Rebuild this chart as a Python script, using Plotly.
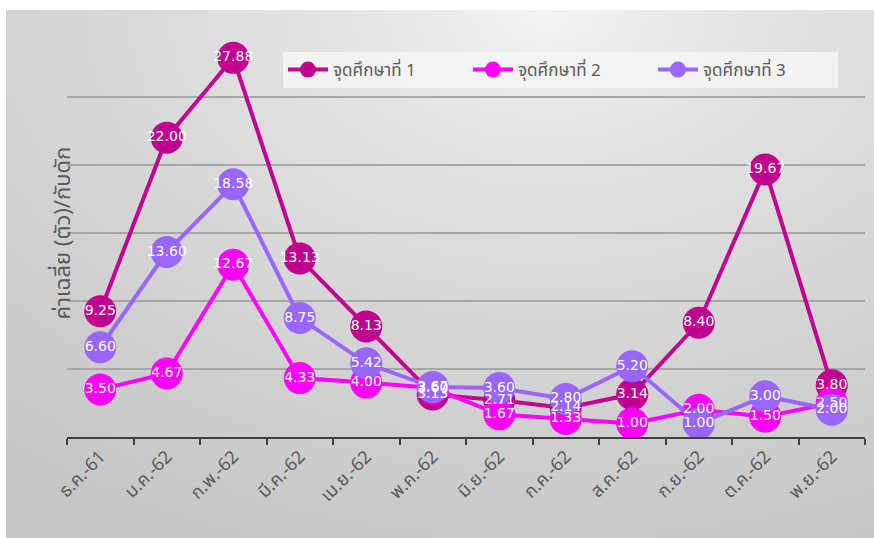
import base64
import struct
import zlib

import numpy as np
import plotly.graph_objects as go

# Monthly survey periods
months = ["ธ.ค.-61", "ม.ค.-62", "ก.พ.-62", "มี.ค.-62", "เม.ย.-62", "พ.ค.-62",
          "มิ.ย.-62", "ก.ค.-62", "ส.ค.-62", "ก.ย.-62", "ต.ค.-62", "พ.ย.-62"]

# Average catch per trap at each study site
site1 = [9.25, 22.00, 27.88, 13.13, 8.13, 3.13, 2.71, 2.14, 3.14, 8.40, 19.67, 3.80]
site2 = [3.50, 4.67, 12.67, 4.33, 4.00, 3.60, 1.67, 1.33, 1.00, 2.00, 1.50, 2.50]
site3 = [6.60, 13.60, 18.58, 8.75, 5.42, 3.67, 3.60, 2.80, 5.20, 1.00, 3.00, 2.00]

series_names = ["จุดศึกษาที่ 1", "จุดศึกษาที่ 2", "จุดศึกษาที่ 3"]
series_colors = ["#C0008E", "#FF00FF", "#9966FF"]

W, H = 874, 538
M_L, M_R, M_T, M_B = 67, 9, 29, 101
PW, PH = W - M_L - M_R, H - M_T - M_B

THAI_FONT = "Noto Sans Thai, Tahoma, DejaVu Sans, sans-serif"


def gradient_png(w, h):
    """Soft radial grey fill used as the chart panel background."""
    ys, xs = np.mgrid[0:h, 0:w].astype(float)
    cx, cy = 0.62 * w, 0.0
    d = np.sqrt(((xs - cx) / (1.0 * w)) ** 2 + ((ys - cy) / (1.1 * h)) ** 2)
    d = np.clip(d, 0, 1) ** 0.7
    v = (246 - (246 - 198) * d).astype(np.uint8)
    img = np.stack([v, v, v], axis=-1)
    raw = b"".join(b"\x00" + img[r].tobytes() for r in range(h))

    def chunk(tag, data):
        c = struct.pack(">I", len(data)) + tag + data
        return c + struct.pack(">I", zlib.crc32(tag + data) & 0xFFFFFFFF)

    png = b"\x89PNG\r\n\x1a\n"
    png += chunk(b"IHDR", struct.pack(">IIBBBBB", w, h, 8, 2, 0, 0, 0))
    png += chunk(b"IDAT", zlib.compress(raw, 9))
    png += chunk(b"IEND", b"")
    return "data:image/png;base64," + base64.b64encode(png).decode()


fig = go.Figure()

all_series = [site1, site2, site3]

# Lines and markers
for name, vals, col in zip(series_names, all_series, series_colors):
    fig.add_trace(go.Scatter(
        x=months, y=vals, name=name, mode="lines+markers",
        line=dict(color=col, width=4),
        marker=dict(color=col, size=32),
        hoverinfo="skip",
    ))

# Value labels drawn on top of every marker
for vals in all_series:
    fig.add_trace(go.Scatter(
        x=months, y=vals, mode="text",
        text=[f"{v:.2f}" for v in vals], textposition="middle center",
        textfont=dict(color="white", size=14, family="DejaVu Sans, Tahoma, sans-serif"),
        showlegend=False, hoverinfo="skip",
    ))

# Panel background image (x from 6px, y from 10px to the bottom edge)
px0, py0 = 6, 10
fig.add_layout_image(dict(
    source=gradient_png(217, 132),
    xref="paper", yref="paper",
    x=(px0 - M_L) / PW, y=(H - M_B - py0) / PH,
    sizex=(W - px0) / PW, sizey=(H - py0) / PH,
    xanchor="left", yanchor="top", sizing="stretch", layer="below",
))

fig.add_annotation(
    text="ค่าเฉลี่ย (ตัว)/กับดัก", textangle=-90,
    xref="paper", yref="paper", x=(44 - M_L) / PW, y=0.5,
    showarrow=False, font=dict(family=THAI_FONT, size=22, color="#595959"),
)

fig.update_layout(
    width=W, height=H,
    margin=dict(l=M_L, r=M_R, t=M_T, b=M_B),
    paper_bgcolor="white", plot_bgcolor="rgba(0,0,0,0)",
    showlegend=True,
    legend=dict(
        orientation="h", x=(283 - M_L) / PW, y=(H - M_B - 52) / PH,
        xanchor="left", yanchor="top",
        bgcolor="rgba(244,244,244,0.85)", borderwidth=0,
        font=dict(family=THAI_FONT, size=17, color="#595959"),
        itemwidth=40, entrywidth=130, entrywidthmode="pixels",
    ),
    xaxis=dict(
        type="category", tickson="boundaries", ticks="outside",
        ticklen=6, tickwidth=2, tickcolor="#404040",
        showline=True, linecolor="#404040", linewidth=2,
        showgrid=False, tickangle=-45,
        tickfont=dict(family=THAI_FONT, size=18, color="#595959"),
        range=[-0.5, 11.5],
    ),
    yaxis=dict(
        range=[0, 30], dtick=5, showticklabels=False, ticks="",
        showgrid=True, gridcolor="#A6A6A6", gridwidth=1.5,
        zeroline=False, showline=False,
    ),
)

fig.write_html("out.html")
